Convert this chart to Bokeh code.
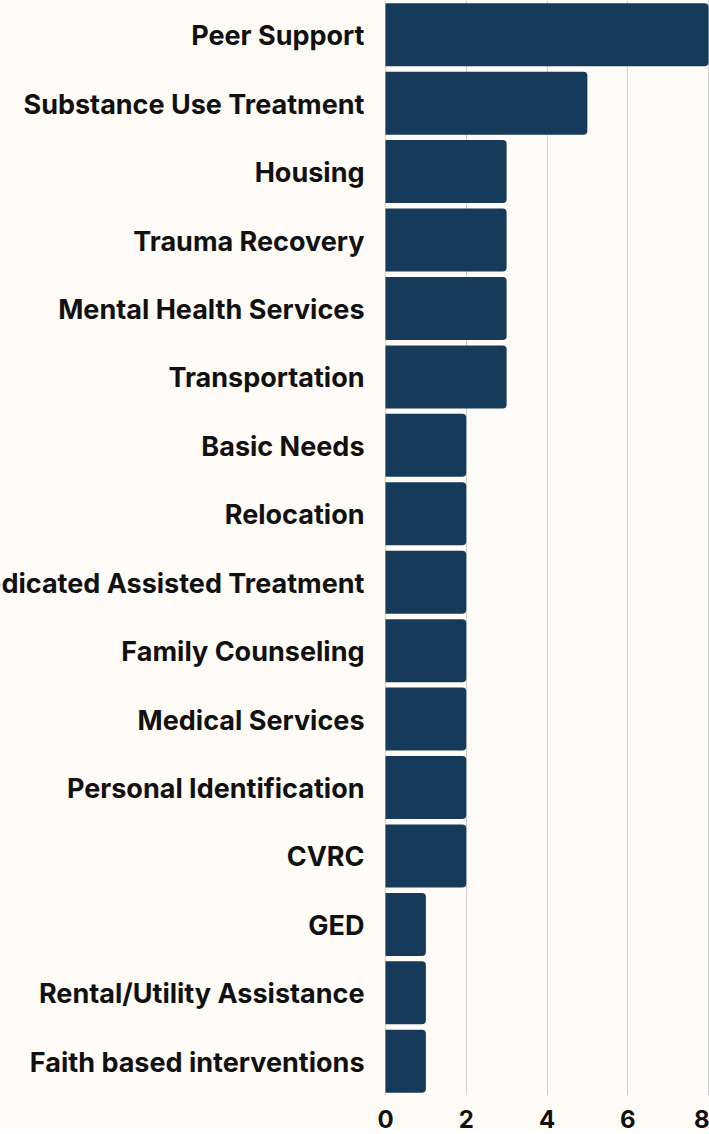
from bokeh.plotting import figure
from bokeh.models import ColumnDataSource, FixedTicker, FactorRange, Range1d
from bokeh.core.properties import value
from bokeh.embed import file_html
from bokeh.resources import INLINE

categories = [
    "Peer Support", "Substance Use Treatment", "Housing", "Trauma Recovery",
    "Mental Health Services", "Transportation", "Basic Needs", "Relocation",
    "Medicated Assisted Treatment", "Family Counseling", "Medical Services",
    "Personal Identification", "CVRC", "GED", "Rental/Utility Assistance",
    "Faith based interventions",
]
counts = [8, 5, 3, 3, 3, 3, 2, 2, 2, 2, 2, 2, 2, 1, 1, 1]
x_ticks = [0, 2, 4, 6, 8]

BG = "#fffbf6"
BAR = "#153a5a"
FONT = "Inter"

px_per_unit = 323 / 8.0
x_start = -385 / px_per_unit
x_end = x_start + 709 / px_per_unit

src = ColumnDataSource(dict(cat=categories, n=counts, lx=[-21 / px_per_unit] * len(categories)))

p = figure(
    frame_width=709, frame_height=1095,
    y_range=FactorRange(factors=list(reversed(categories)), range_padding=0),
    x_range=Range1d(x_start, x_end),
    output_backend="svg", toolbar_location=None,
    y_axis_location=None, min_border=0,
    background_fill_color=BG, border_fill_color=BG,
)
p.outline_line_color = None

p.hbar(y="cat", right="n", left=0, height=0.92, source=src,
       fill_color=BAR, line_color=None, border_radius=(0, 4, 4, 0))

p.text(x="lx", y="cat", text="cat", source=src, text_align="right",
       text_baseline="middle", text_font=value(FONT), text_font_style="bold",
       text_font_size="27px", text_color="#111111", y_offset=1)

p.ygrid.visible = False
p.xgrid.ticker = FixedTicker(ticks=x_ticks)
p.xgrid.grid_line_color = "#cfcfcf"
p.xgrid.grid_line_width = 1
p.xgrid.level = "underlay"

ax = p.xaxis[0]
ax.ticker = FixedTicker(ticks=x_ticks)
ax.axis_line_color = None
ax.major_tick_line_color = None
ax.minor_tick_line_color = None
ax.major_tick_out = 0
ax.major_tick_in = 0
ax.major_label_standoff = 14
ax.major_label_text_line_height = 0.9
ax.major_label_text_font = FONT
ax.major_label_text_font_style = "bold"
ax.major_label_text_font_size = "24px"
ax.major_label_text_color = "#111111"

open("out.html", "w").write(file_html(p, INLINE))
